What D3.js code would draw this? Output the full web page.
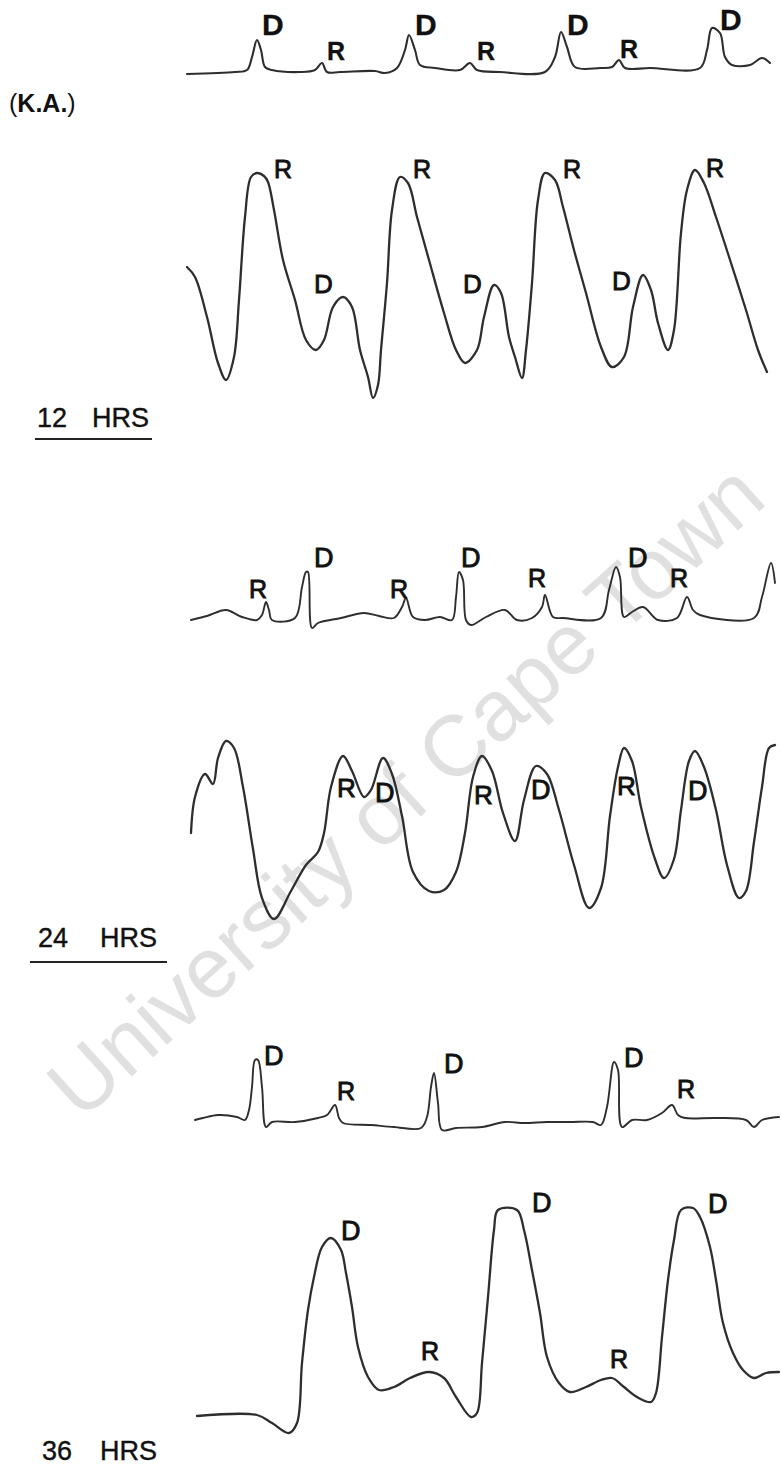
<!DOCTYPE html>
<html>
<head>
<meta charset="utf-8">
<script src="https://cdn.jsdelivr.net/npm/d3@7"></script>
<style>
  html, body { margin: 0; padding: 0; background: #fff; }
  svg { display: block; }
</style>
</head>
<body>
<svg id="chart"></svg>
<script>
// Each trace: [sample, deflection] pairs, sample = horizontal recording position,
// deflection = upward displacement from the trace's zero line.

// 12 hours: ECG lead
const ecg12 = [[0,6],[48,8],[60,10],[65,23],[70,40],[74,30],[78,13],[85,10],[113,8],[128,10],
  [135,17],[140,8],[153,8],[188,9],[198,7],[210,12],[218,30],[222,45],[228,30],[233,15],
  [248,12],[273,10],[283,17],[290,10],[313,8],[358,8],[368,23],[374,48],[380,33],[388,13],
  [413,12],[425,13],[432,20],[438,12],[463,12],[513,12],[520,30],[525,52],[533,47],[538,23],
  [545,15],[563,15],[575,22],[583,17]];
const ecg12Marks = [["D",75,45],["R",140,20],["D",228,45],["R",290,20],["D",380,45],["R",433,22],["D",533,50]];

// 12 hours: pressure wave
const wave12 = [[0,133],[8,123],[20,83],[31,37],[39,20],[47,43],[52,100],[58,183],[64,223],[70,227],
  [77,224],[81,218],[87,190],[96,140],[108,100],[119,60],[129,50],[137,60],[146,93],[156,103],
  [165,93],[173,50],[181,23],[186,2],[191,15],[194,50],[200,117],[205,190],[213,223],[221,217],
  [230,183],[242,140],[257,87],[269,50],[278,37],[290,50],[297,83],[307,115],[314,107],[322,63],
  [328,43],[335,22],[339,50],[345,117],[351,200],[358,227],[368,220],[376,193],[387,150],[399,107],
  [414,53],[425,33],[437,43],[446,93],[456,125],[464,110],[471,77],[481,50],[487,70],[494,167],
  [500,210],[508,230],[517,217],[529,183],[544,137],[559,90],[571,50],[580,28]];
const wave12Marks = [["R",87,222],["D",127,107],["R",226,222],["D",276,107],["R",376,222],["D",425,110],["R",519,223]];

// 24 hours: ECG lead
const ecg24 = [[4,10],[20,14],[39,20],[55,13],[70,10],[75,15],[79,28],[82,20],[85,10],[108,12],
  [115,43],[119,58],[121,58],[125,2],[131,7],[154,12],[177,17],[192,14],[207,12],[215,23],
  [219,32],[226,13],[238,10],[253,13],[265,10],[269,33],[272,58],[276,50],[279,10],[284,5],
  [299,13],[318,20],[330,10],[345,12],[355,23],[358,35],[366,13],[376,12],[414,12],[422,40],
  [429,63],[433,53],[437,13],[445,18],[456,23],[471,10],[490,12],[500,33],[506,20],[513,15],
  [567,12],[575,33],[584,67],[588,47]];
const ecg24Marks = [["R",62,32],["D",127,63],["R",203,32],["D",274,63],["R",341,43],["D",441,63],["R",483,43]];

// 24 hours: pressure wave
const wave24 = [[4,97],[8,133],[18,156],[26,146],[31,172],[39,189],[47,182],[56,143],[66,81],[75,32],
  [87,11],[104,39],[119,65],[131,78],[137,97],[144,143],[156,174],[165,159],[177,133],[184,140],
  [196,172],[205,156],[215,114],[226,58],[242,39],[257,40],[269,58],[278,97],[286,153],[295,174],
  [305,159],[316,117],[328,89],[337,130],[349,164],[360,156],[372,120],[387,65],[402,22],[414,42],
  [423,114],[431,163],[437,182],[445,169],[454,123],[468,71],[477,52],[487,71],[494,120],[502,169],
  [508,179],[517,163],[529,120],[540,65],[552,32],[559,39],[567,88],[575,143],[582,182],[588,185]];
const wave24Marks = [["R",150,133],["D",188,128],["R",287,126],["D",344,131],["R",430,135],["D",501,130]];

// 36 hours: ECG lead
const ecg36 = [[8,20],[16,22],[31,25],[50,23],[58,20],[62,30],[65,53],[68,80],[71,80],[75,53],
  [79,13],[85,18],[108,18],[131,22],[140,25],[148,35],[152,22],[156,17],[184,15],[207,13],
  [234,12],[240,23],[244,53],[247,67],[251,37],[255,10],[269,12],[295,13],[318,18],[337,17],
  [360,18],[383,18],[406,18],[414,15],[420,33],[427,78],[431,70],[435,13],[445,20],[460,20],
  [475,27],[485,35],[491,25],[498,22],[529,22],[559,20],[567,13],[575,20],[592,23]];
const ecg36Marks = [["D",77,75],["R",150,40],["D",257,67],["D",437,73],["R",490,42]];

// 36 hours: pressure wave
const wave36 = [[10,24],[70,25],[85,17],[102,7],[110,17],[115,77],[121,130],[127,163],[135,193],[144,202],
  [154,190],[159,167],[165,133],[171,93],[181,63],[192,50],[207,53],[223,62],[242,68],[257,62],
  [269,43],[284,23],[290,27],[295,77],[301,143],[307,210],[311,230],[330,230],[337,210],[345,170],
  [353,127],[360,83],[372,57],[383,48],[399,53],[414,60],[425,62],[437,53],[450,43],[464,38],
  [469,47],[475,103],[481,160],[487,200],[494,230],[506,232],[513,223],[523,193],[529,160],[536,117],
  [546,87],[556,70],[567,62],[579,67],[592,68]];
const wave36Marks = [["D",154,200],["R",234,80],["D",345,228],["R",423,72],["D",521,227]];

const periodHours = ["12", "24", "36"];
const periodUnit = "HRS";
const subjectLabel = "K.A.";
const watermark = "University of Cape Town";

// ---------------------------------------------------------------
const W = 781, H = 1473;
const FONT = "'Liberation Sans', Arial, sans-serif";
const svg = d3.select("#chart").attr("width", W).attr("height", H)
  .attr("viewBox", `0 0 ${W} ${H}`);
svg.append("rect").attr("width", W).attr("height", H).attr("fill", "#fff");

// faint diagonal watermark behind the traces
svg.append("text")
  .attr("transform", "translate(405,790) rotate(-42)")
  .attr("text-anchor", "middle")
  .attr("dominant-baseline", "central")
  .attr("font-family", FONT)
  .attr("font-size", 86)
  .attr("fill", "#e0e0e0")
  .text(watermark);

const x = d3.scaleLinear().domain([0, 600]).range([187, 787]);

const panels = [
  { data: ecg12,  marks: ecg12Marks,  zero: 80,   stroke: 2.1, markSize: { D: 30, R: 25 }, bold: true },
  { data: wave12, marks: wave12Marks, zero: 400,  stroke: 2.3, markSize: { D: 26, R: 25 } },
  { data: ecg24,  marks: ecg24Marks,  zero: 630,  stroke: 1.9, markSize: { D: 27, R: 25 } },
  { data: wave24, marks: wave24Marks, zero: 930,  stroke: 2.3, markSize: { D: 27, R: 26 } },
  { data: ecg36,  marks: ecg36Marks,  zero: 1140, stroke: 1.9, markSize: { D: 27, R: 25 } },
  { data: wave36, marks: wave36Marks, zero: 1440, stroke: 2.3, markSize: { D: 27, R: 25 } }
];

const curve = d3.curveCatmullRom.alpha(0.5);

panels.forEach(p => {
  const y = d3.scaleLinear().domain([0, 300]).range([p.zero, p.zero - 300]);
  const line = d3.line().x(d => x(d[0])).y(d => y(d[1])).curve(curve);
  const g = svg.append("g");
  g.append("path")
    .datum(p.data)
    .attr("d", line)
    .attr("fill", "none")
    .attr("stroke", "#2e2e2e")
    .attr("stroke-width", p.stroke)
    .attr("stroke-linejoin", "round")
    .attr("stroke-linecap", "round");
  g.selectAll("text.mark")
    .data(p.marks)
    .join("text")
    .attr("class", "mark")
    .attr("x", d => x(d[1]))
    .attr("y", d => y(d[2]))
    .attr("font-family", FONT)
    .attr("font-weight", p.bold ? "bold" : "normal")
    .attr("font-size", d => p.markSize[d[0]])
    .attr("fill", "#111")
    .attr("stroke", "#111")
    .attr("stroke-width", p.bold ? 0.3 : 0.9)
    .text(d => d[0]);
});

// subject identifier
const subj = svg.append("text")
  .attr("x", 9).attr("y", 112)
  .attr("font-family", FONT)
  .attr("font-size", 25)
  .attr("fill", "#111");
subj.append("tspan").text("(");
subj.append("tspan").attr("font-weight", "bold").text(subjectLabel);
subj.append("tspan").text(")");

// time labels below each pair of traces
const periodLayout = [
  { x: 37, unitX: 92,  y: 427, rule: [35, 152, 439] },
  { x: 38, unitX: 100, y: 947, rule: [30, 167, 962] },
  { x: 42, unitX: 100, y: 1460, rule: null }
];
periodHours.forEach((h, i) => {
  const L = periodLayout[i];
  [[L.x, h], [L.unitX, periodUnit]].forEach(([tx, s]) => {
    svg.append("text")
      .attr("x", tx).attr("y", L.y)
      .attr("font-family", FONT)
      .attr("font-size", 27)
      .attr("fill", "#111")
      .attr("stroke", "#111").attr("stroke-width", 0.4)
      .text(s);
  });
  if (L.rule) {
    svg.append("line")
      .attr("x1", L.rule[0]).attr("x2", L.rule[1])
      .attr("y1", L.rule[2]).attr("y2", L.rule[2])
      .attr("stroke", "#222").attr("stroke-width", 2);
  }
});
</script>
</body>
</html>
